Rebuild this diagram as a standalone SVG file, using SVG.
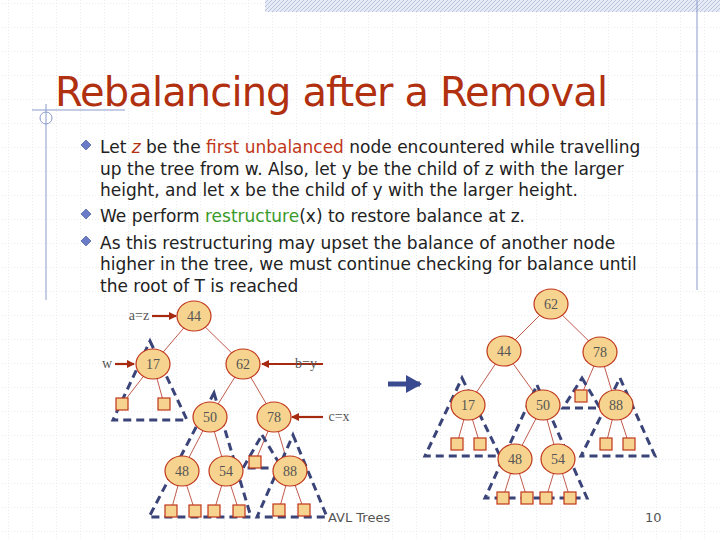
<svg xmlns="http://www.w3.org/2000/svg" width="720" height="540" viewBox="0 0 720 540">
<defs>
<pattern id="grid" width="24" height="24" patternUnits="userSpaceOnUse" x="8" y="3">
<path d="M0 0H24M0 0V24" fill="none" stroke="#d6d9e2" stroke-width="1" stroke-dasharray="1 2"/>
</pattern>
<pattern id="hatch" width="4" height="4" patternUnits="userSpaceOnUse">
<rect width="4" height="4" fill="#e6ebf5"/><path d="M0 4L4 0" stroke="#b9c5de" stroke-width="1"/>
</pattern>
<marker id="ra" markerWidth="8" markerHeight="8" refX="7" refY="4" orient="auto" markerUnits="userSpaceOnUse"><path d="M0 0L8 4L0 8z" fill="#a52a10"/></marker>
<marker id="ba" markerWidth="16" markerHeight="18" refX="14" refY="9" orient="auto" markerUnits="userSpaceOnUse"><path d="M0 0L16 9L0 18z" fill="#3a4a90"/></marker>
</defs>
<style>
.n ellipse{fill:#f6d38e;stroke:#c0361a;stroke-width:1.2}
.n text,.lb{font-family:"Liberation Serif",serif;font-size:14px;fill:#555;text-anchor:middle}
.sq{fill:#f6d38e;stroke:#c0361a;stroke-width:1.2}
.e{stroke:#b03020;stroke-width:0.8;fill:none}
.tri{fill:none;stroke:#3a4478;stroke-width:3;stroke-dasharray:8 5}
.ar{stroke:#a52a10;stroke-width:2.2;marker-end:url(#ra)}
.t{font-family:"DejaVu Sans",Verdana,sans-serif;font-size:17px;fill:#222}
.bul{fill:#6a7cc8;stroke:#3a4a90;stroke-width:0.6}
</style>
<rect width="720" height="540" fill="#fff"/>
<rect width="720" height="540" fill="url(#grid)"/>
<rect x="265" y="0" width="455" height="12" fill="url(#hatch)"/>
<line x1="697" y1="0" x2="697" y2="290" stroke="#8b9bcc" stroke-width="1"/>
<line x1="32" y1="110" x2="125" y2="110" stroke="#8b9bcc" stroke-width="1"/>
<line x1="46" y1="104" x2="46" y2="300" stroke="#8b9bcc" stroke-width="1"/>
<circle cx="46" cy="118" r="6" fill="none" stroke="#8b9bcc"/>
<text x="55" y="106" font-family="DejaVu Sans,Verdana,sans-serif" font-size="40" fill="#b03010" textLength="553">Rebalancing after a Removal</text>
<g id="bullets">
<path class="bul" d="M86 140l5 5-5 5-5-5z"/>
<path class="bul" d="M86 209l5 5-5 5-5-5z"/>
<path class="bul" d="M86 236l5 5-5 5-5-5z"/>
</g>
<g id="body" class="t">
<text x="100" y="153">Let <tspan fill="#b03010" font-style="italic">z</tspan> be the <tspan fill="#c0361a">first unbalanced</tspan> node encountered while travelling</text>
<text x="100" y="175">up the tree from w. Also, let y be the child of z with the larger</text>
<text x="100" y="196">height, and let x be the child of y with the larger height.</text>
<text x="100" y="222">We perform <tspan fill="#3a9a2a">restructure</tspan>(x) to restore balance at z.</text>
<text x="100" y="249">As this restructuring may upset the balance of another node</text>
<text x="100" y="270">higher in the tree, we must continue checking for balance until</text>
<text x="100" y="292">the root of T is reached</text>
</g>
<g id="connectors">
<path class="e" d="M194 316L153 364M194 316L243 364M153 364L122 404M153 364L164 404M243 364L210 417M243 364L274 417M210 417L182 471M210 417L226 471M274 417L255 462M274 417L290 471M182 471L171 511M182 471L195 511M226 471L214 511M226 471L239 511M290 471L279 510M290 471L304 510"/>
<path class="e" d="M551 304L504 351M551 304L600 352M504 351L468 405M504 351L543 405M468 405L457 444M468 405L480 444M543 405L515 459M543 405L558 459M515 459L503 498M515 459L527 498M558 459L546 498M558 459L570 498M600 352L581 396M600 352L616 405M616 405L606 444M616 405L629 444"/>
<path class="tri" d="M150 341L187 420H113Z"/>
<path class="tri" d="M214 393L251 517H149Z"/>
<path class="tri" d="M262 435L282 468H243Z"/>
<path class="tri" d="M293 435L327 517H257Z"/>
<path class="tri" d="M462 378L500 456H425Z"/>
<path class="tri" d="M537 385L587 498H485Z"/>
<path class="tri" d="M582 378L600 408H563Z"/>
<path class="tri" d="M620 378L655 456H581Z"/>
<line class="ar" x1="152" y1="316" x2="176" y2="316"/>
<line class="ar" x1="115" y1="364" x2="134" y2="364"/>
<line class="ar" x1="323" y1="364" x2="262" y2="364"/>
<line class="ar" x1="323" y1="417" x2="292" y2="417"/>
<line x1="388" y1="384" x2="420" y2="384" stroke="#3a4a90" stroke-width="5" marker-end="url(#ba)"/>
</g>
<g id="squares">
<rect class="sq" x="116" y="398" width="12" height="12"/><rect class="sq" x="158" y="398" width="12" height="12"/>
<rect class="sq" x="249" y="456" width="12" height="12"/>
<rect class="sq" x="165" y="505" width="12" height="12"/><rect class="sq" x="189" y="505" width="12" height="12"/>
<rect class="sq" x="208" y="505" width="12" height="12"/><rect class="sq" x="233" y="505" width="12" height="12"/>
<rect class="sq" x="273" y="504" width="12" height="12"/><rect class="sq" x="298" y="504" width="12" height="12"/>
<rect class="sq" x="451" y="438" width="12" height="12"/><rect class="sq" x="474" y="438" width="12" height="12"/>
<rect class="sq" x="575" y="390" width="12" height="12"/>
<rect class="sq" x="600" y="438" width="12" height="12"/><rect class="sq" x="623" y="438" width="12" height="12"/>
<rect class="sq" x="497" y="492" width="12" height="12"/><rect class="sq" x="521" y="492" width="12" height="12"/>
<rect class="sq" x="540" y="492" width="12" height="12"/><rect class="sq" x="564" y="492" width="12" height="12"/>
</g>
<g id="n44" class="n"><ellipse cx="194" cy="316" rx="17" ry="15"/><text x="194" y="321">44</text></g>
<g id="n17" class="n"><ellipse cx="153" cy="364" rx="17" ry="15"/><text x="153" y="369">17</text></g>
<g id="n62" class="n"><ellipse cx="243" cy="364" rx="17" ry="15"/><text x="243" y="369">62</text></g>
<g id="n50" class="n"><ellipse cx="210" cy="417" rx="17" ry="15"/><text x="210" y="422">50</text></g>
<g id="n78" class="n"><ellipse cx="274" cy="417" rx="17" ry="15"/><text x="274" y="422">78</text></g>
<g id="n48" class="n"><ellipse cx="182" cy="471" rx="17" ry="15"/><text x="182" y="476">48</text></g>
<g id="n54" class="n"><ellipse cx="226" cy="471" rx="17" ry="15"/><text x="226" y="476">54</text></g>
<g id="n88" class="n"><ellipse cx="290" cy="471" rx="17" ry="15"/><text x="290" y="476">88</text></g>
<g id="r62" class="n"><ellipse cx="551" cy="304" rx="17" ry="15"/><text x="551" y="309">62</text></g>
<g id="r44" class="n"><ellipse cx="504" cy="351" rx="17" ry="15"/><text x="504" y="356">44</text></g>
<g id="r78" class="n"><ellipse cx="600" cy="352" rx="17" ry="15"/><text x="600" y="357">78</text></g>
<g id="r17" class="n"><ellipse cx="468" cy="405" rx="17" ry="15"/><text x="468" y="410">17</text></g>
<g id="r50" class="n"><ellipse cx="543" cy="405" rx="17" ry="15"/><text x="543" y="410">50</text></g>
<g id="r88" class="n"><ellipse cx="616" cy="405" rx="17" ry="15"/><text x="616" y="410">88</text></g>
<g id="r48" class="n"><ellipse cx="515" cy="459" rx="17" ry="15"/><text x="515" y="464">48</text></g>
<g id="r54" class="n"><ellipse cx="558" cy="459" rx="17" ry="15"/><text x="558" y="464">54</text></g>
<g id="labels">
<text class="lb" x="139" y="320">a=z</text>
<text class="lb" x="107" y="368">w</text>
<text class="lb" x="306" y="368">b=y</text>
<text class="lb" x="339" y="421">c=x</text>
<text x="328" y="522" font-family="DejaVu Sans,Verdana,sans-serif" font-size="13" fill="#555">AVL Trees</text>
<text x="645" y="522" font-family="DejaVu Sans,Verdana,sans-serif" font-size="13" fill="#555">10</text>
</g>
</svg>
